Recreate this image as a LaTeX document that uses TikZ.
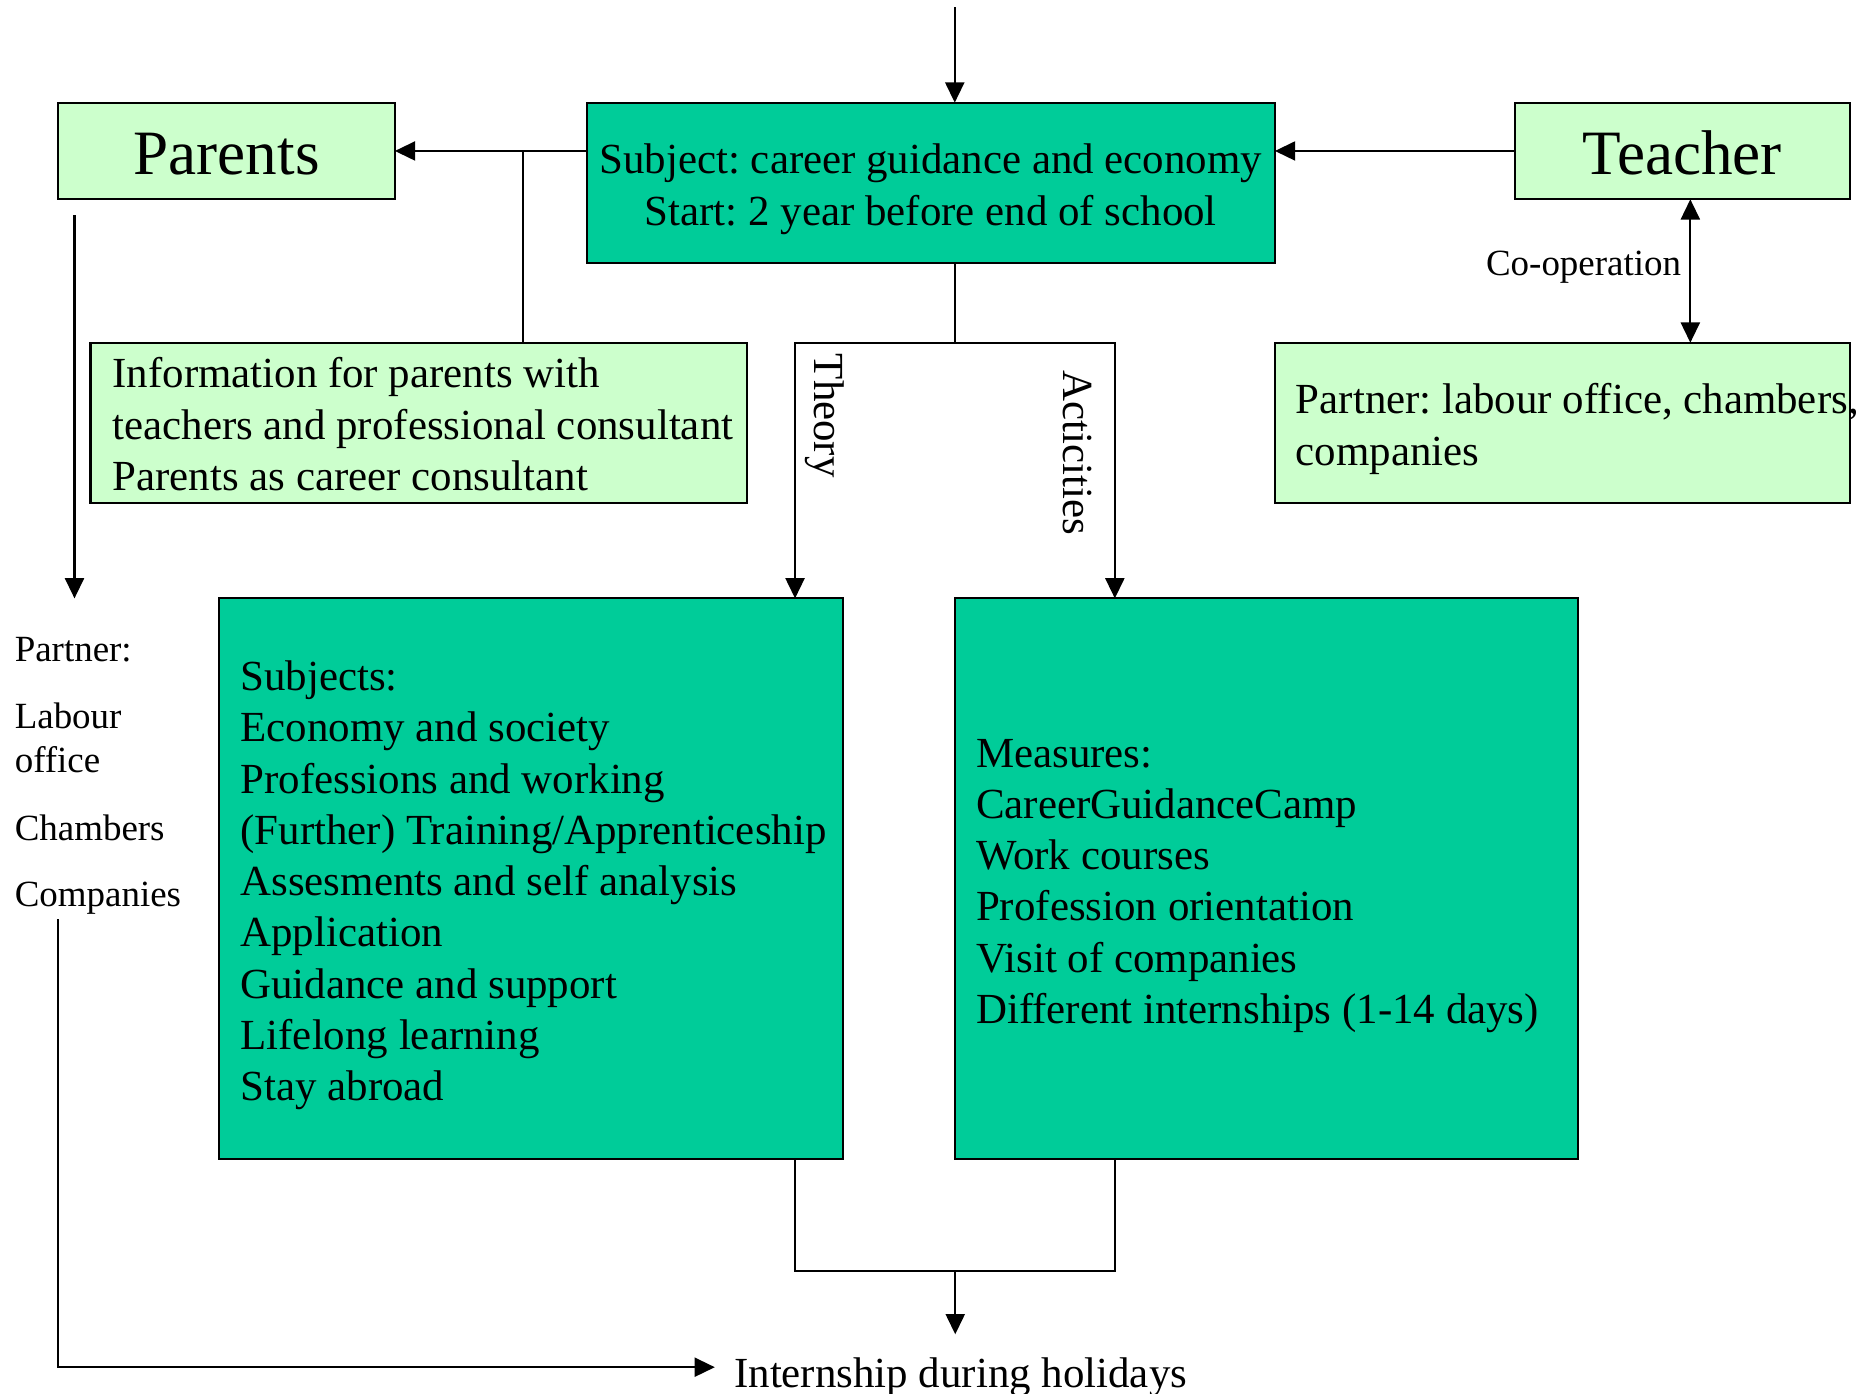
\documentclass[tikz,border=0pt]{standalone}
\usepackage{fontspec}
\setmainfont{Liberation Serif}
\usetikzlibrary{arrows.meta}
\definecolor{boxteal}{HTML}{00CC99}
\definecolor{boxlight}{HTML}{CCFFCC}
\frenchspacing
\begin{document}
\begin{tikzpicture}[x=0.5pt,y=-0.5pt,
  box/.style={draw=black, line width=0.9pt, rectangle, inner sep=0pt, outer sep=0pt},
  tealbox/.style={box, fill=boxteal},
  lightbox/.style={box, fill=boxlight},
  conn/.style={line width=0.85pt},
  arr/.style={conn, -{Triangle[length=8.5pt,width=8pt]}},
  darr/.style={conn, {Triangle[length=8.5pt,width=8pt]}-{Triangle[length=8.5pt,width=8pt]}},
  bodytext/.style={inner sep=0pt, font=\fontsize{18pt}{21.5pt}\selectfont},
  bigtext/.style={font=\fontsize{26.5pt}{30pt}\selectfont, text height=19.35pt, text depth=0pt},
  smalltext/.style={inner sep=0pt, font=\fontsize{15.5pt}{18pt}\selectfont, anchor=base west},
]
\useasboundingbox (0,0) rectangle (1568,1169);

% boxes
\node[tealbox, minimum width=288.7pt, minimum height=67.4pt] (main) at (780.9,153.5) {};
\node[lightbox, minimum width=141.15pt, minimum height=40.55pt, bigtext] (parents) at (190.15,126.65) {Parents};
\node[lightbox, minimum width=140.65pt, minimum height=40.55pt, bigtext] (teacher) at (1411.35,126.65) {Teacher};
\node[lightbox, minimum width=275.35pt, minimum height=67.4pt] (info) at (351.25,354.9) {};
\node[lightbox, minimum width=241.3pt, minimum height=67.4pt] (partner) at (1310.7,354.9) {};
\node[tealbox, minimum width=261.8pt, minimum height=235pt] (subjects) at (445.2,737) {};
\node[tealbox, minimum width=261.6pt, minimum height=235pt] (measures) at (1062.6,737) {};

% box texts
\node[bodytext, align=center, anchor=north] (mainT) at (780.9,115.4)
  {\rule{0pt}{15pt}Subject: career guidance and economy\\Start: 2 year before end of school};
\node[bodytext, align=left, anchor=north west] (infoT) at (94,294.9)
  {\rule{0pt}{15pt}Information for parents with\\teachers and professional consultant\\Parents as career consultant};
\node[bodytext, align=left, anchor=north west] (partnerT) at (1086.8,316.8)
  {\rule{0pt}{15pt}Partner: labour office, chambers,\\companies};
\node[bodytext, align=left, anchor=north west] (subjT) at (201.4,549)
  {\rule{0pt}{15pt}Subjects:\\Economy and society\\Professions and working\\(Further) Training/Apprenticeship\\Assesments and self analysis\\Application\\Guidance and support\\Lifelong learning\\Stay abroad};
\node[bodytext, align=left, anchor=north west] (measT) at (818.5,613.2)
  {\rule{0pt}{15pt}Measures:\\CareerGuidanceCamp\\Work courses\\Profession orientation\\Visit of companies\\Different internships (1-14 days)};

% free labels
\node[smalltext] (lpartner) at (12,554.9) {Partner:};
\node[smalltext] (llabour) at (12,611.1) {Labour};
\node[smalltext] (loffice) at (12,648) {office};
\node[smalltext] (lchambers) at (12,705.1) {Chambers};
\node[smalltext] (lcompanies) at (12,760.3) {Companies};
\node[smalltext, anchor=base east] (coop) at (1410.7,231.5) {Co-operation};
\node[bodytext, rotate=-90, anchor=base west] (theory) at (683.5,296.4) {Theory};
\node[bodytext, rotate=-90, anchor=base west] (acti) at (892.5,310.4) {Acticities};
\node[bodytext, anchor=base west] (intern) at (615.6,1163.9) {Internship during holidays};

% connectors
\coordinate (topin) at (801,6.2);
\draw[arr] (topin) -- (topin |- main.north);
\draw[arr] (main.west |- parents.east) -- (parents.east);
\coordinate (pj) at (438.7,126.65);
\draw[conn] (pj) -- (pj |- info.north);
\draw[arr] (teacher.west) -- (teacher.west -| main.east);
\coordinate (cox) at (1418.1,0);
\draw[darr] (teacher.south -| cox) -- (partner.north -| cox);
\coordinate (split) at (801,287.5);
\coordinate (thx) at (667,0);
\coordinate (acx) at (935.3,0);
\draw[conn] (split |- main.south) -- (split);
\draw[arr] (split) -| (thx |- subjects.north);
\draw[arr] (split) -| (acx |- measures.north);
\coordinate (merge) at (801.4,1066);
\draw[conn] (thx |- subjects.south) |- (merge) -| (acx |- measures.south);
\coordinate (internin) at (801.4,1119.4);
\draw[arr] (merge) -- (internin);
\coordinate (pdown) at (62.5,180.4);
\coordinate (pdownend) at (62.5,502);
\draw[arr] (pdown) -- (pdownend);
\coordinate (compdown) at (49,771);
\draw[arr] (compdown) |- ([xshift=-7.95pt,yshift=8.45pt]intern.base west);
\end{tikzpicture}
\end{document}
